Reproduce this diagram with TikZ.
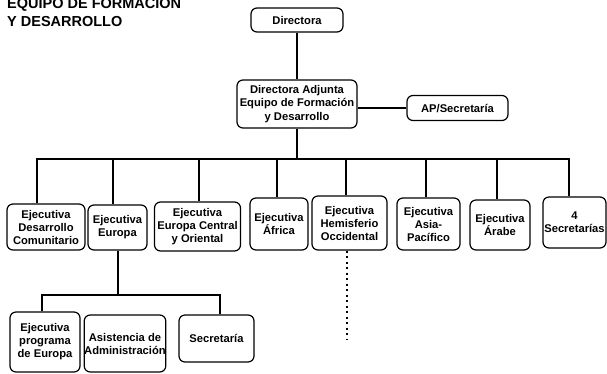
\documentclass[tikz,border=0pt]{standalone}
\usepackage{fontspec}
\setmainfont{Liberation Sans}
\begin{document}
\begin{tikzpicture}[x=1pt,y=-1pt,
  box/.style={draw, line width=1.2pt, rounded corners=6pt, inner sep=0pt, align=center,
    font=\fontsize{11.2}{13}\selectfont\bfseries},
  link/.style={line width=1.2pt},
  dotlink/.style={line width=1.2pt, dash pattern=on 2pt off 3.5pt},
  title/.style={inner sep=0pt, anchor=base west, font=\fontsize{14.5}{18}\selectfont\bfseries}]
\useasboundingbox (0,0) rectangle (607,373);

\node[title] (t1) at (7,8) {EQUIPO DE FORMACION};
\node[title] (t2) at (7,26) {Y DESARROLLO};

\node[box, minimum width=92pt, minimum height=24pt] (dir) at (297,20) {Directora};
\node[box, minimum width=120pt, minimum height=48pt, font=\fontsize{11.2}{13.3}\selectfont\bfseries] (adj) at (297,104) {Directora Adjunta\\Equipo de Formación\\y Desarrollo};
\node[box, minimum width=101pt, minimum height=25pt] (ap) at (457.5,108) {AP/Secretaría};

\node[box, minimum width=78pt, minimum height=46pt] (e1) at (46,227) {Ejecutiva\\Desarrollo\\Comunitario};
\node[box, minimum width=59pt, minimum height=45pt] (e2) at (117.5,227.5) {Ejecutiva\\Europa};
\node[box, minimum width=86pt, minimum height=49pt] (e3) at (197.5,226.5) {Ejecutiva\\Europa Central\\y Oriental};
\node[box, minimum width=58pt, minimum height=52pt] (e4) at (279,224) {Ejecutiva\\África};
\node[box, minimum width=75pt, minimum height=54pt] (e5) at (349.5,223) {Ejecutiva\\Hemisferio\\Occidental};
\node[box, minimum width=63pt, minimum height=52pt] (e6) at (428.5,224) {Ejecutiva\\Asia-\\Pacífico};
\node[box, minimum width=60pt, minimum height=50pt] (e7) at (500,225) {Ejecutiva\\Árabe};
\node[box, minimum width=63pt, minimum height=51pt] (e8) at (574.5,222.5) {4\\Secretarías};

\node[box, minimum width=70pt, minimum height=60pt] (s1) at (45,342) {Ejecutiva\\programa\\de Europa};
\node[box, minimum width=80pt, minimum height=57pt] (s2) at (125,343.5) {Asistencia de\\Administración};
\node[box, minimum width=75pt, minimum height=47pt] (s3) at (216.5,338.5) {Secretaría};

% top links
\draw[link] (dir) -- (adj);
\draw[link] (ap.west) -- (ap.west -| adj.east);

% main bus
\coordinate (bA) at (297,159);
\coordinate (b1) at (37,159);
\coordinate (b2) at (113,159);
\coordinate (b3) at (199,159);
\coordinate (b4) at (277,159);
\coordinate (b5) at (346,159);
\coordinate (b6) at (426,159);
\coordinate (b7) at (497,159);
\coordinate (b8) at (569,159);
\draw[link] (adj.south) -- (bA);
\draw[link] (b1 |- e1.north) -- (b1) -- (b8) -- (b8 |- e8.north);
\foreach \i in {2,...,7} {
  \draw[link] (b\i) -- (b\i |- e\i.north);
}

% Europa sub-tree
\coordinate (eu) at (118,295);
\coordinate (c1) at (42,295);
\coordinate (c3) at (220,295);
\draw[link] (eu |- e2.south) -- (eu);
\draw[link] (c1 |- s1.north) -- (c1) -- (c3) -- (c3 |- s3.north);

% dotted line below Hemisferio
\coordinate (h1) at (347,340);
\draw[dotlink] (h1 |- e5.south) -- (h1);
\end{tikzpicture}
\end{document}
